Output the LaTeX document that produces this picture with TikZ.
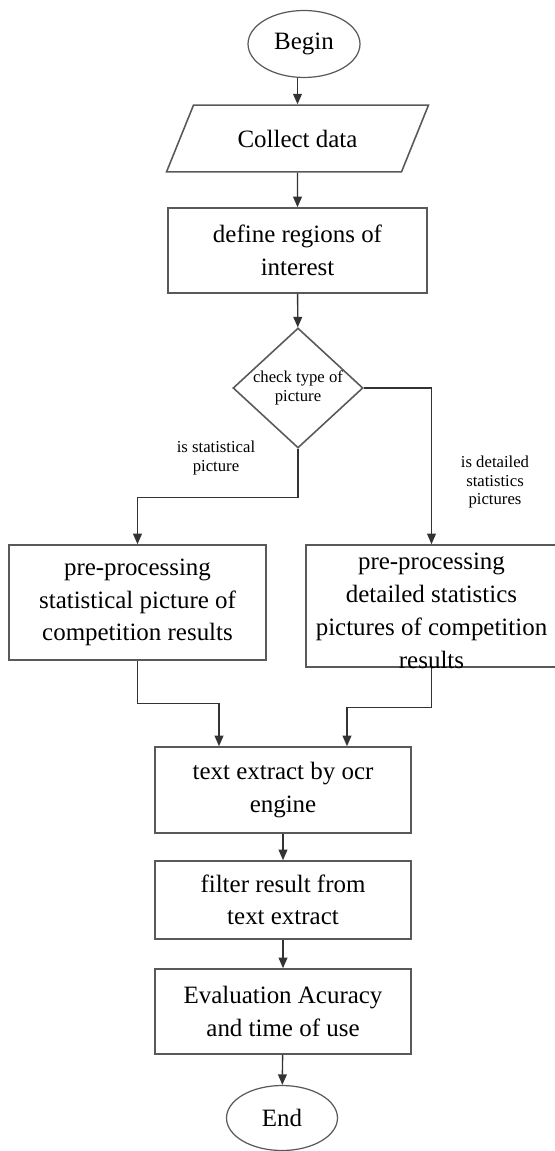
\documentclass[tikz,border=0pt]{standalone}
\usepackage{fontspec}
\setmainfont{Liberation Serif}
\usetikzlibrary{shapes.geometric,arrows.meta}

\begin{document}
\begin{tikzpicture}[x=0.02cm,y=-0.02cm,
  box/.style={draw=black!65,line width=0.9pt,inner sep=0pt,align=center,font=\fontsize{14.2}{18.5}\selectfont},
  term/.style={box,ellipse,line width=0.7pt},
  note/.style={align=center,font=\fontsize{9.5}{10.8}\selectfont},
  arr/.style={draw=black!80,line width=0.8pt,-{Triangle[length=6pt,width=5pt]}}]
\useasboundingbox (0,0) rectangle (554,1151);
\node[term,minimum width=2.24cm,minimum height=1.34cm] (begin) at (304,44) {Begin};
\node[box,trapezium,trapezium left angle=68,trapezium right angle=112,trapezium stretches body,
  text height=10pt,text depth=0pt,inner ysep=14pt,minimum width=5.24cm] (collect) at (297.5,138.5) {Collect data};
\node[box,minimum width=5.18cm,minimum height=1.70cm] (roi) at (297.5,250.5) {define regions of\\interest};
\node[box,diamond,aspect=1.08,minimum width=2.6cm,minimum height=2.4cm,
  font=\fontsize{9.5}{10.8}\selectfont] (check) at (298,388) {check type of\\picture};
\node[box,minimum width=5.14cm,minimum height=2.30cm] (stat) at (137.5,602.5)
  {pre-processing\\statistical picture of\\competition results};
\node[box,minimum width=5.02cm,minimum height=2.44cm,
  label={[align=center,yshift=-0.1cm,font=\fontsize{14.2}{18.8}\selectfont]center:pre-processing\\detailed statistics\\pictures of competition\\results}]
  (detail) at (431.5,606) {};
\node[box,minimum width=5.12cm,minimum height=1.72cm] (ocr) at (283,790) {text extract by ocr\\engine};
\node[box,minimum width=5.12cm,minimum height=1.56cm] (filter) at (283,900) {filter result from\\text extract};
\node[box,minimum width=5.12cm,minimum height=1.70cm] (eval) at (283,1011.5) {Evaluation Acuracy\\and time of use};
\node[term,minimum width=2.22cm,minimum height=1.30cm] (end) at (282,1118) {End};
\node[note] (isstat) at (216,458) {is statistical\\picture};
\node[note] (isdetail) at (495,482) {is detailed\\statistics\\pictures};

\draw[arr] (begin.south -| collect.north) -- (collect.north);
\draw[arr] (collect) -- (roi);
\draw[arr] (roi) -- (check);
\draw[arr] (check.south) -- ++(0,49) -| (stat.north);
\draw[arr] (check.east) -| (detail.north);
\draw[arr] (stat.south) -- ++(0,43) -| ([xshift=-1.28cm]ocr.north);
\draw[arr] (detail.south) -- ++(0,40) -| ([xshift=1.28cm]ocr.north);
\draw[arr] (ocr) -- (filter);
\draw[arr] (filter) -- (eval);
\draw[arr] (eval) -- (end);
\end{tikzpicture}
\end{document}
